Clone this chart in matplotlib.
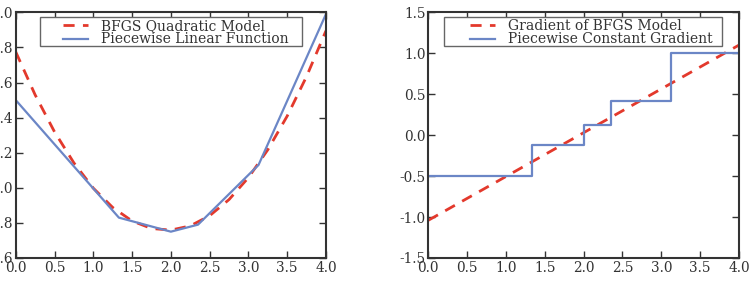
import numpy as np
import matplotlib
matplotlib.use('Agg')
import matplotlib.pyplot as plt
from matplotlib.patches import Rectangle

# values
x_model = [0.0, 0.25, 0.5, 0.75, 1.0, 1.25, 1.5, 1.75, 2.0,
           2.25, 2.5, 2.75, 3.0, 3.25, 3.5, 3.75, 4.0]
f_model = [1.775, 1.530, 1.319, 1.142, 0.998, 0.888, 0.811, 0.768, 0.759,
           0.783, 0.841, 0.933, 1.058, 1.217, 1.409, 1.635, 1.895]

x_knots = [0.0, 1.33, 2.0, 2.35, 3.13, 4.0]
f_knots = [1.50, 0.83, 0.75, 0.79, 1.13, 1.99]

x_grad = [0.0, 4.0]
g_model = [-1.04, 1.10]

g_steps = [-0.50, -0.12, 0.12, 0.42, 1.00]

red = '#e3392c'
blue = '#6b86c6'
dark = '#333333'

plt.rcParams['font.family'] = 'DejaVu Serif'
plt.rcParams['font.size'] = 9.8

fig = plt.figure(figsize=(7.52, 2.88), dpi=100)
ax1 = fig.add_axes([0.0209, 0.1042, 0.4126, 0.853])
ax2 = fig.add_axes([0.5695, 0.1042, 0.4132, 0.853])

ax1.plot(x_model, f_model, '--', color=red, lw=2, dashes=(4, 3), label='BFGS Quadratic Model')
ax1.plot(x_knots, f_knots, '-', color=blue, lw=1.6, label='Piecewise Linear Function')
ax1.set_xlim(0, 4)
ax1.set_ylim(0.6, 2.0)
ax1.set_yticks(np.arange(0.6, 2.01, 0.2))

step_y = g_steps + [g_steps[-1]]
ax2.plot(x_grad, g_model, '--', color=red, lw=2, dashes=(4, 3), label='Gradient of BFGS Model')
ax2.step(x_knots, step_y, where='post', color=blue, lw=1.6, label='Piecewise Constant Gradient')
ax2.set_xlim(0, 4)
ax2.set_ylim(-1.5, 1.5)
ax2.set_yticks(np.arange(-1.5, 1.51, 0.5))

# legend anchor (handle start) and frame box, axes fractions
leg_pos = {ax1: (0.1524, 0.972, 0.0783, 0.8443), ax2: (0.134, 0.972, 0.0515, 0.8948)}

for ax in (ax1, ax2):
    ax.set_xticks(np.arange(0, 4.01, 0.5))
    ax.xaxis.set_major_formatter(matplotlib.ticker.FormatStrFormatter('%.1f'))
    ax.yaxis.set_major_formatter(matplotlib.ticker.FormatStrFormatter('%.1f'))
    ax.tick_params(direction='in', top=True, right=True, length=5, width=1,
                   colors=dark, labelcolor=dark, pad=2)
    for s in ax.spines.values():
        s.set_color(dark)
        s.set_linewidth(1.5)
    lx, ly, fx, fw = leg_pos[ax]
    ax.add_patch(Rectangle((fx, 0.8628), fw, 0.118, transform=ax.transAxes,
                           facecolor='white', edgecolor='#666666', lw=1.0, zorder=4))
    leg = ax.legend(loc='upper left', bbox_to_anchor=(lx, ly), frameon=False,
                    borderpad=0, labelspacing=-0.06, handlelength=1.8,
                    handletextpad=0.95, borderaxespad=0, fontsize=10)
    leg.set_zorder(5)
    for t in leg.get_texts():
        t.set_color(dark)

fig.savefig('out.png', dpi=100)
